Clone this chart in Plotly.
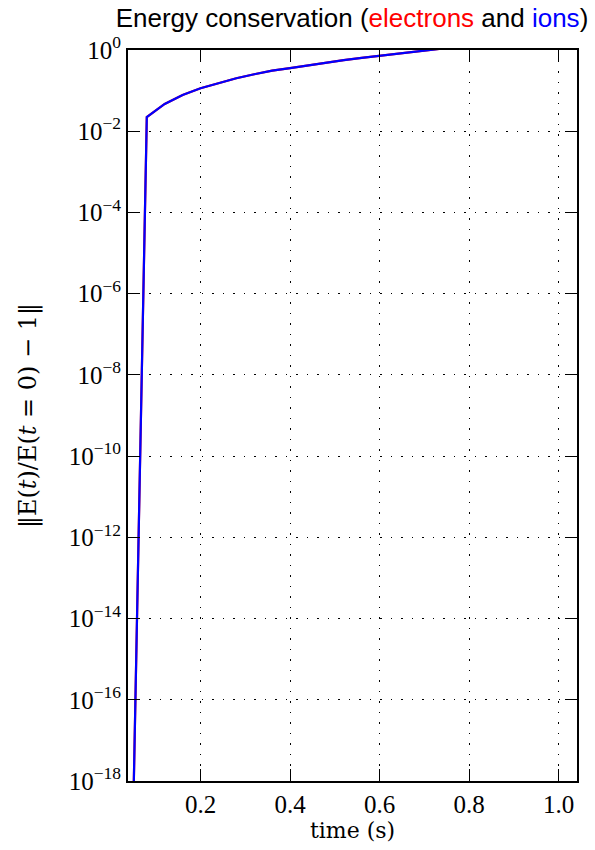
import plotly.graph_objects as go

# Sampled times (s)
time = [0.04, 0.08, 0.12, 0.16, 0.20, 0.24, 0.28, 0.32, 0.36, 0.40,
        0.44, 0.48, 0.52, 0.56, 0.60, 0.64, 0.68, 0.72, 0.76, 0.80,
        0.84, 0.88, 0.92, 0.96, 1.00, 1.04]

# Relative energy error |E(t)/E(0) - 1|
err_electrons = [6e-25, 0.0224, 0.047, 0.078, 0.114, 0.155, 0.202, 0.253, 0.310, 0.358,
                 0.422, 0.492, 0.565, 0.643, 0.724, 0.81, 0.93, 1.04, 1.15, 1.26,
                 1.38, 1.51, 1.64, 1.78, 1.92, 2.07]
err_ions = [6e-25, 0.0224, 0.047, 0.078, 0.114, 0.155, 0.202, 0.253, 0.310, 0.358,
            0.422, 0.492, 0.565, 0.643, 0.724, 0.81, 0.93, 1.04, 1.15, 1.26,
            1.38, 1.51, 1.64, 1.78, 1.92, 2.07]

x_ticks = [0.2, 0.4, 0.6, 0.8, 1.0]
x_tick_text = ["0.2", "0.4", "0.6", "0.8", "1.0"]
y_exponents = [0, -2, -4, -6, -8, -10, -12, -14, -16, -18]

y_tick_vals = [10.0 ** e for e in y_exponents]
y_tick_text = ["10<sup>%s</sup>" % (str(e).replace("-", "\u2212")) for e in y_exponents]

serif = "Liberation Serif"
label_serif = "DejaVu Serif"

fig = go.Figure()
fig.add_trace(go.Scatter(x=time, y=err_electrons, mode="lines",
                         line=dict(color="#ff0000", width=2.2), name="electrons"))
fig.add_trace(go.Scatter(x=time, y=err_ions, mode="lines",
                         line=dict(color="#0000ff", width=2.2), name="ions"))

axis_common = dict(
    showline=True, linewidth=2, linecolor="black", mirror="allticks",
    ticks="inside", ticklen=12, tickwidth=1, tickcolor="black",
    showgrid=True, gridcolor="black", gridwidth=1, griddash="1.5px,9px",
    zeroline=False,
    tickfont=dict(family=serif, size=25, color="black"),
)

fig.update_xaxes(
    range=[0.038, 1.041], tickvals=x_ticks, ticktext=x_tick_text,
    title=dict(text="time (s)", font=dict(family=label_serif, size=22, color="black"),
               standoff=6),
    **axis_common,
)
fig.update_yaxes(
    type="log", range=[-18, 0], tickvals=y_tick_vals, ticktext=y_tick_text,
    title=dict(text="\u2016E(<i>t</i>)/E(<i>t</i> = 0) \u2212 1\u2016",
               font=dict(family=label_serif, size=24, color="black"), standoff=25),
    **axis_common,
)

fig.update_layout(
    width=595, height=850,
    margin=dict(l=128, r=18, t=50, b=69),
    paper_bgcolor="white", plot_bgcolor="white",
    showlegend=False,
    title=dict(
        text='Energy conservation (<span style="color:#ff0000">electrons</span> and '
             '<span style="color:#0000ff">ions</span>)',
        font=dict(family="Liberation Sans", size=26, color="black"),
        x=352 / 595, xanchor="center", xref="container",
        y=1 - 9 / 850, yanchor="top", yref="container",
    ),
)

fig.write_html("out.html")
